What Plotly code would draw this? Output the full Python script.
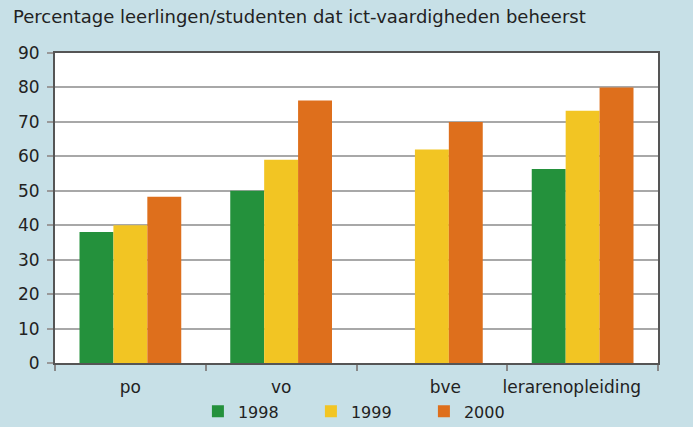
import plotly.graph_objects as go

categories = ["po", "vo", "bve", "lerarenopleiding"]
tick_labels = ["po", "vo", "\u00a0\u00a0\u00a0\u00a0\u00a0bve", "lerarenopleiding\u00a0\u00a0\u00a0\u00a0"]
series_names = ["1998", "1999", "2000"]
values_1998 = [38, 50, None, 56.3]
values_1999 = [40, 59, 62, 73.2]
values_2000 = [48.3, 76.2, 70, 80]
colors = ["#24913c", "#f2c523", "#de6f1c"]

FONT = "DejaVu Sans"
fig = go.Figure()
for name, vals, col in zip(series_names, [values_1998, values_1999, values_2000], colors):
    fig.add_trace(go.Bar(x=categories, y=vals, name=name, marker=dict(color=col, line=dict(width=0))))

fig.update_layout(
    width=693, height=427,
    paper_bgcolor="#c7e0e7", plot_bgcolor="white",
    margin=dict(l=55, r=35, t=53, b=64, autoexpand=False),
    barmode="group", bargap=0.325, bargroupgap=0,
    font=dict(family=FONT, size=17, color="#222"),
    title=dict(text="Percentage leerlingen/studenten dat ict-vaardigheden beheerst",
               xref="container", x=13/693, xanchor="left",
               yref="container", y=1-17/427, yanchor="middle",
               font=dict(family=FONT, size=18, color="#222")),
    showlegend=True,
    legend=dict(orientation="h", x=0.237, xanchor="left", y=-0.156, yanchor="middle",
                font=dict(family=FONT, size=16, color="#222"),
                entrywidth=68, entrywidthmode="pixels",
                bgcolor="rgba(0,0,0,0)", itemclick=False),
)
fig.update_xaxes(type="category", tickson="boundaries", ticks="outside", ticklen=6,
                 tickcolor="#888", tickwidth=1.5, showline=True, linecolor="#555", linewidth=2,
                 mirror=True, showgrid=False, ticktext=tick_labels, tickvals=categories,
                 tickangle=0, automargin=False, ticklabelstandoff=8)
fig.update_yaxes(range=[0, 90], dtick=10, ticks="outside", ticklen=6, tickcolor="#999",
                 tickwidth=1.5, showline=True, linecolor="#555", linewidth=2, mirror=True,
                 showgrid=True, gridcolor="#a8a8a8", gridwidth=1.5, zeroline=False,
                 automargin=False, ticklabelstandoff=4)

fig.write_html("out.html", config={"displayModeBar": False},
               post_script="document.body.style.margin='0';document.body.style.background='#c7e0e7';")
